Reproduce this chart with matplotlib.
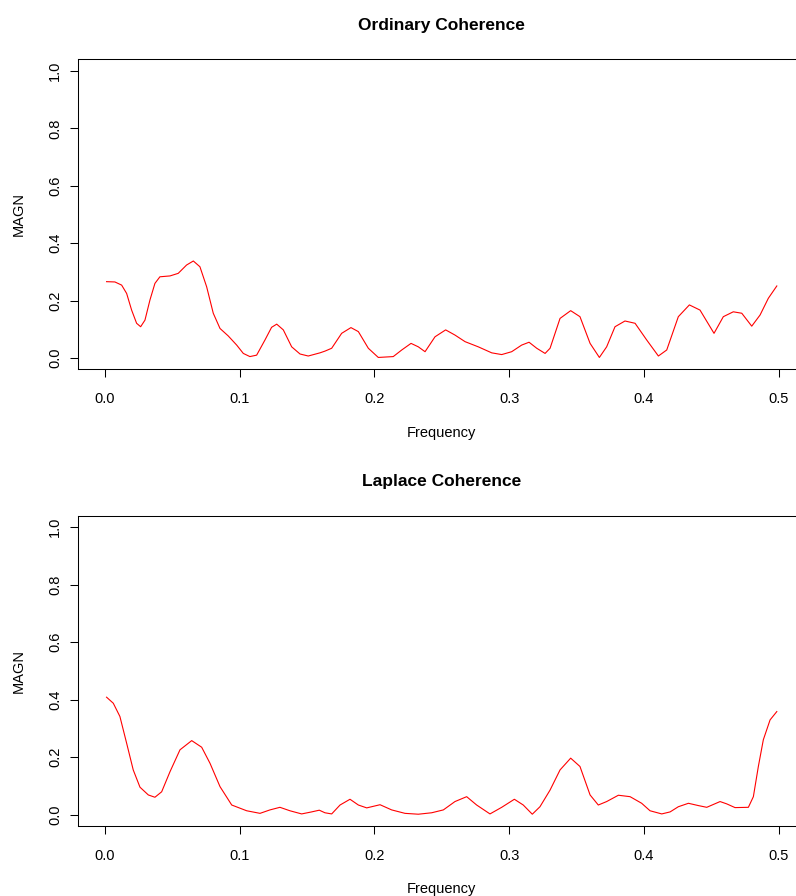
import matplotlib.pyplot as plt
import numpy as np

plt.rcParams['font.family'] = ['Liberation Sans', 'DejaVu Sans']

# Ordinary coherence
freq_ord = [0.0012, 0.0074, 0.0124, 0.0161, 0.0198, 0.0235, 0.0265, 0.0297, 0.0334,
            0.0371, 0.0408, 0.0483, 0.0544, 0.0606, 0.0656, 0.0705, 0.0755, 0.0804,
            0.0854, 0.0915, 0.0978, 0.1027, 0.1076, 0.1126, 0.1188, 0.1237, 0.1275,
            0.1324, 0.1386, 0.1448, 0.1509, 0.1596, 0.1633, 0.1683, 0.1757, 0.1826,
            0.1881, 0.1955, 0.2029, 0.214, 0.2203, 0.2272, 0.2326, 0.2376, 0.245,
            0.2529, 0.2598, 0.2673, 0.2771, 0.2871, 0.2945, 0.3019, 0.3093, 0.3148,
            0.3205, 0.3267, 0.3304, 0.3378, 0.3457, 0.3526, 0.3601, 0.367, 0.3724,
            0.3786, 0.386, 0.3935, 0.4021, 0.4108, 0.417, 0.4256, 0.4338, 0.4417,
            0.4521, 0.459, 0.4664, 0.4727, 0.4801, 0.4863, 0.4924, 0.4987]
mag_ord = [0.266, 0.265, 0.254, 0.225, 0.167, 0.121, 0.109, 0.132, 0.202,
           0.260, 0.283, 0.286, 0.295, 0.324, 0.338, 0.318, 0.248, 0.156,
           0.103, 0.077, 0.045, 0.016, 0.005, 0.010, 0.063, 0.107, 0.118,
           0.098, 0.039, 0.014, 0.007, 0.018, 0.024, 0.034, 0.086, 0.106,
           0.092, 0.034, 0.002, 0.005, 0.028, 0.051, 0.039, 0.022, 0.074,
           0.098, 0.080, 0.057, 0.039, 0.018, 0.012, 0.022, 0.045, 0.055,
           0.034, 0.016, 0.034, 0.138, 0.165, 0.144, 0.051, 0.002, 0.039,
           0.109, 0.129, 0.121, 0.063, 0.007, 0.028, 0.144, 0.185, 0.167,
           0.086, 0.144, 0.161, 0.156, 0.111, 0.150, 0.208, 0.251]

# Laplace coherence
freq_lap = [0.0012, 0.0062, 0.0111, 0.0161, 0.021, 0.026, 0.0322, 0.0371, 0.0421,
            0.0483, 0.0557, 0.0644, 0.0718, 0.078, 0.0854, 0.0941, 0.1052, 0.1151,
            0.1225, 0.1299, 0.1373, 0.146, 0.1534, 0.1591, 0.1633, 0.1683, 0.1745,
            0.1819, 0.1881, 0.1943, 0.2042, 0.2128, 0.2227, 0.2326, 0.2425, 0.2512,
            0.2598, 0.2685, 0.2759, 0.2858, 0.2945, 0.3039, 0.3105, 0.3172, 0.3229,
            0.3304, 0.3378, 0.3457, 0.3526, 0.3601, 0.3662, 0.3724, 0.3811, 0.3898,
            0.3984, 0.4046, 0.4133, 0.4195, 0.4256, 0.4331, 0.4405, 0.4467, 0.4566,
            0.4615, 0.4677, 0.4776, 0.4813, 0.485, 0.4887, 0.4937, 0.4987]
mag_lap = [0.408, 0.387, 0.341, 0.248, 0.155, 0.095, 0.068, 0.060, 0.079,
           0.149, 0.225, 0.257, 0.234, 0.178, 0.097, 0.033, 0.013, 0.004,
           0.016, 0.025, 0.013, 0.002, 0.009, 0.015, 0.006, 0.002, 0.033,
           0.053, 0.033, 0.023, 0.034, 0.016, 0.004, 0.001, 0.006, 0.016,
           0.045, 0.062, 0.033, 0.002, 0.025, 0.053, 0.033, 0.001, 0.027,
           0.085, 0.155, 0.196, 0.167, 0.068, 0.033, 0.045, 0.067, 0.062,
           0.039, 0.013, 0.002, 0.009, 0.027, 0.039, 0.031, 0.025, 0.045,
           0.037, 0.024, 0.025, 0.062, 0.167, 0.260, 0.329, 0.358]

xticks = [0.0, 0.1, 0.2, 0.3, 0.4, 0.5]
yticks = [0.0, 0.2, 0.4, 0.6, 0.8, 1.0]

W, H = 796, 896
fig = plt.figure(figsize=(W / 100, H / 100), dpi=100)

def panel(top, bottom, f, m, title):
    ax = fig.add_axes([78 / W, 1 - bottom / H, 727.5 / W, (bottom - top) / H])
    ax.plot(f, m, color='red', lw=0.8)
    ax.set_xlim(-0.02, 0.52)
    ax.set_ylim(-0.04, 1.04)
    ax.set_xticks(xticks)
    ax.set_xticklabels([f'{t:.1f}' for t in xticks])
    ax.set_yticks(yticks)
    ax.set_yticklabels([f'{t:.1f}' for t in yticks], rotation=90, va='center')
    ax.tick_params(direction='out', length=5.5, width=0.75, labelsize=10.5)
    ax.tick_params(axis='x', pad=11)
    ax.tick_params(axis='y', pad=6)
    for s in ax.spines.values():
        s.set_linewidth(0.75)
    ax.set_xlabel('Frequency', fontsize=10.5, labelpad=14)
    ax.set_ylabel('MAGN', fontsize=10.5, labelpad=16)
    ax.set_title(title, fontsize=12.5, fontweight='bold', pad=21)
    return ax

panel(59.5, 369.5, freq_ord, mag_ord, 'Ordinary Coherence')
panel(515.5, 826, freq_lap, mag_lap, 'Laplace Coherence')

fig.savefig('out.png', dpi=100)
